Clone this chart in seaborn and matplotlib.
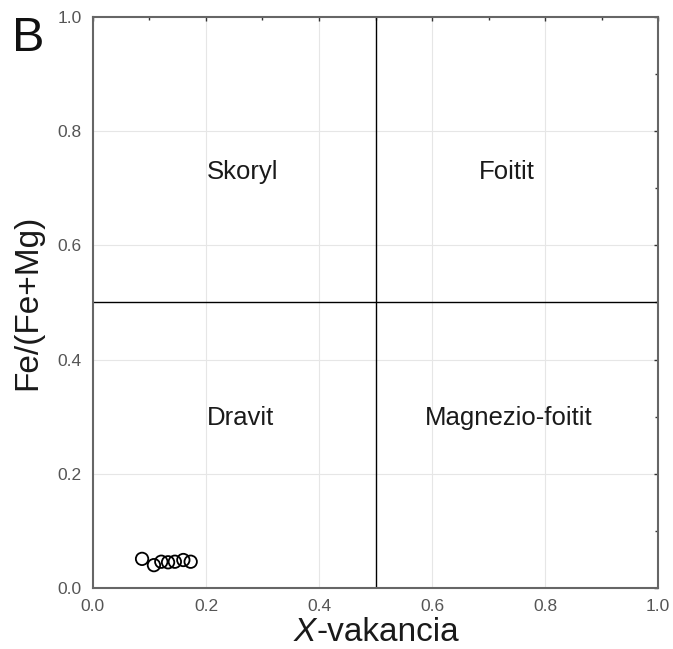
import numpy as np
import matplotlib
matplotlib.use("Agg")
import matplotlib.pyplot as plt
import seaborn as sns

# points
x_vak = [0.087, 0.108, 0.121, 0.133, 0.145, 0.160, 0.173]
fe_ratio = [0.051, 0.040, 0.046, 0.045, 0.046, 0.049, 0.046]

field_names = ["Skoryl", "Foitit", "Dravit", "Magnezio-foitit"]
field_x = [0.265, 0.733, 0.262, 0.736]
field_y = [0.729, 0.729, 0.298, 0.298]

ticks = [0.0, 0.2, 0.4, 0.6, 0.8, 1.0]

sns.set_style("white")
plt.rcParams['font.family'] = ['Liberation Sans', 'DejaVu Sans']

fig = plt.figure(figsize=(6.73, 6.49), dpi=100)
ax = fig.add_axes([0.138, 0.094, 0.840, 0.880])

# light grid
for t in ticks[1:-1]:
    ax.axvline(t, color='#e6e6e6', lw=0.8, zorder=0)
    ax.axhline(t, color='#e6e6e6', lw=0.8, zorder=0)

# boundary lines between the fields
ax.axvline(0.5, color='black', lw=1.0)
ax.axhline(0.5, color='black', lw=1.0)

sns.scatterplot(x=x_vak, y=fe_ratio, ax=ax, marker='o', s=80,
                facecolor='none', edgecolor='black', linewidth=1.3, zorder=3)

for name, px, py in zip(field_names, field_x, field_y):
    ax.text(px, py, name, ha='center', va='center', fontsize=18.5, color='#1a1a1a')

ax.set_xlim(0, 1)
ax.set_ylim(0, 1)
ax.set_xticks(ticks)
ax.set_yticks(ticks)
ax.set_xticklabels([f"{t:.1f}" for t in ticks])
ax.set_yticklabels([f"{t:.1f}" for t in ticks])
ax.set_xticks(np.arange(0.1, 1.0, 0.2), minor=True)
ax.set_yticks(np.arange(0.1, 1.0, 0.2), minor=True)
ax.tick_params(which='both', direction='in', top=True, right=True,
               length=3, width=1, color='#333333', labelsize=12.5,
               labelcolor='#555555', pad=8)
ax.tick_params(which='minor', length=2)
for sp in ax.spines.values():
    sp.set_color('#666666')
    sp.set_linewidth(1.5)

ax.set_ylabel('Fe/(Fe+Mg)', fontsize=24, labelpad=10, color='#1a1a1a')
# x label with italic X
fig.text(0.470, 0.025, 'X', style='italic', fontsize=24, ha='right', va='center', color='#1a1a1a')
fig.text(0.470, 0.025, '-vakancia', fontsize=24, ha='left', va='center', color='#1a1a1a')

fig.text(0.042, 0.940, 'B', fontsize=35, ha='center', va='center', color='#111111')

fig.savefig('out.png', dpi=100)
